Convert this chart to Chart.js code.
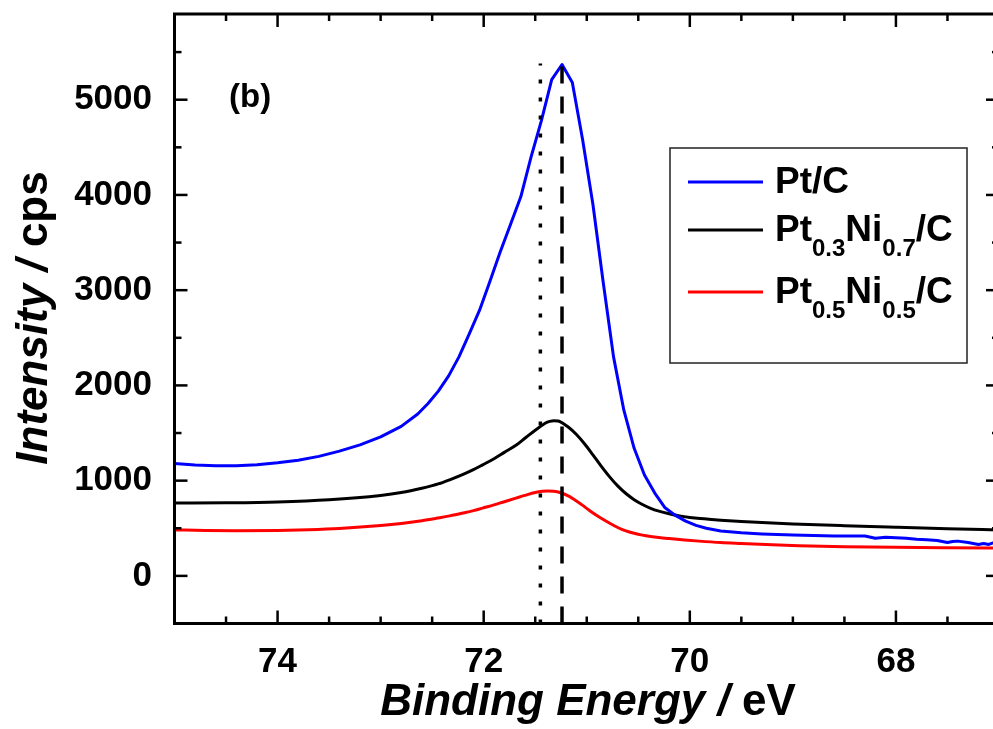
<!DOCTYPE html>
<html><head><meta charset="utf-8">
<script src="https://cdn.jsdelivr.net/npm/chart.js@4.4.1/dist/chart.umd.min.js"></script>
<style>html,body{margin:0;padding:0;background:#fff;overflow:hidden;width:993px;height:729px}#wrap{position:absolute;left:0;top:0;width:1010px;height:729px}</style>
</head><body><div id="wrap"><canvas id="c" width="1010" height="729"></canvas></div>
<script>
// ---- data ----
const ptcEnergy = [75.0,74.8,74.6,74.4,74.2,74.0,73.8,73.6,73.4,73.2,73.0,72.8,72.64,72.54,72.44,72.34,72.24,72.14,72.04,71.94,71.84,71.74,71.64,71.54,71.44,71.34,71.24,71.14,71.04,70.94,70.84,70.74,70.64,70.54,70.44,70.34,70.24,70.14,70.04,69.94,69.84,69.7,69.5,69.3,69.0,68.8,68.6,68.4,68.3,68.2,68.1,68.0,67.9,67.8,67.7,67.6,67.5,67.45,67.4,67.3,67.2,67.15,67.1,67.05,67.0];
const ptcIntensity = [1180,1165,1157,1157,1167,1187,1215,1255,1310,1375,1460,1570,1700,1810,1940,2100,2300,2540,2790,3090,3400,3690,3980,4400,4780,5210,5370,5180,4580,3900,3080,2300,1740,1340,1060,870,715,635,575,530,500,472,452,440,428,423,420,420,418,395,405,400,395,385,380,372,350,360,365,350,330,340,330,350,370];

const pt3Energy = [75.0,74.5,74.0,73.5,73.0,72.8,72.6,72.5,72.4,72.33,72.2,72.1,72.01,71.9,71.8,71.68,71.6,71.5,71.44,71.4,71.36,71.32,71.28,71.26,71.18,71.1,71.02,70.94,70.86,70.78,70.7,70.62,70.54,70.46,70.38,70.3,70.2,70.1,70.0,69.9,69.7,69.5,69.0,68.5,68.0,67.5,67.0];
const pt3Intensity = [765,768,777,800,845,875,920,948,980,1008,1065,1115,1166,1230,1297,1376,1445,1530,1575,1605,1622,1630,1626,1620,1563,1485,1385,1270,1152,1042,945,865,800,750,710,680,652,630,614,602,585,572,546,527,511,496,483];

const pt5Energy = [75.0,74.7,74.4,74.0,73.7,73.4,73.0,72.8,72.6,72.45,72.33,72.2,72.1,72.01,71.9,71.8,71.68,71.6,71.5,71.43,71.38,71.32,71.26,71.18,71.1,71.02,70.95,70.86,70.78,70.7,70.62,70.54,70.46,70.38,70.3,70.2,70.05,69.91,69.7,69.5,69.2,68.94,68.5,68.0,67.5,67.0];
const pt5Intensity = [483,477,474,477,485,498,528,550,580,607,630,660,685,712,745,779,819,845,875,888,892,888,875,840,787,725,668,605,555,508,472,447,428,414,403,392,377,365,350,340,326,317,307,300,296,293];

const dottedLineEnergy = [71.45, 71.45];
const dottedLineIntensity = [-500, 5380];
const dashedLineEnergy = [71.24, 71.24];
const dashedLineIntensity = [-500, 5370];

const seriesNames = ['Pt/C', 'Pt0.3Ni0.7/C', 'Pt0.5Ni0.5/C'];
const seriesColors = ['#0000ff', '#000000', '#ff0000'];
// legend label pieces: [text, isSubscript]
const legendParts = [
  [['Pt/C', 0]],
  [['Pt', 0], ['0.3', 1], ['Ni', 0], ['0.7', 1], ['/C', 0]],
  [['Pt', 0], ['0.5', 1], ['Ni', 0], ['0.5', 1], ['/C', 0]]
];
const xMajorTicks = [74, 72, 70, 68];
const xMinorTicks = [74.5, 73.5, 73, 72.5, 71.5, 71, 70.5, 69.5, 69, 68.5, 67.5];
const yMajorTicks = [0, 1000, 2000, 3000, 4000, 5000];
const yMinorTicks = [500, 1500, 2500, 3500, 4500, 5500];
const xTitleParts = [['Binding Energy /', 1], [' eV', 0]];
const yTitleParts = [['Intensity /', 1], [' cps', 0]];
const panelLabel = '(b)';

// ---- build ----
const pts = (xs, ys) => xs.map((v, i) => ({x: v, y: ys[i]}));
const FF = "'Liberation Sans', Arial, sans-serif";

function drawRuns(ctx, runs, x, y, align) {
  let total = 0;
  runs.forEach(r => { ctx.font = r.font; r.w = ctx.measureText(r.text).width; total += r.w; });
  let cx = align === 'center' ? x - total / 2 : x;
  runs.forEach(r => { ctx.font = r.font; ctx.fillText(r.text, cx, y + (r.dy || 0)); cx += r.w; });
}

const framePlugin = {
  id: 'frame',
  afterDatasetsDraw(chart) {
    const {ctx, chartArea: a, scales: {x, y}} = chart;
    ctx.save();
    ctx.strokeStyle = '#000';
    ctx.lineCap = 'butt';
    const seg = (x1, y1, x2, y2) => { ctx.beginPath(); ctx.moveTo(x1, y1); ctx.lineTo(x2, y2); ctx.stroke(); };
    ctx.lineWidth = 2.5;
    xMajorTicks.forEach(v => { const p = x.getPixelForValue(v); seg(p, a.bottom, p, a.bottom - 13); seg(p, a.top, p, a.top + 13); });
    xMinorTicks.forEach(v => { const p = x.getPixelForValue(v); seg(p, a.bottom, p, a.bottom - 7); seg(p, a.top, p, a.top + 7); });
    yMajorTicks.forEach(v => { const p = y.getPixelForValue(v); seg(a.left, p, a.left + 13, p); seg(a.right, p, a.right - 13, p); });
    yMinorTicks.forEach(v => { const p = y.getPixelForValue(v); seg(a.left, p, a.left + 7, p); seg(a.right, p, a.right - 7, p); });
    ctx.lineWidth = 3;
    ctx.strokeRect(a.left, a.top, a.right - a.left, a.bottom - a.top);

    // texts
    ctx.fillStyle = '#000';
    ctx.textBaseline = 'alphabetic';
    ctx.textAlign = 'left';
    ctx.font = 'bold 33px ' + FF;
    ctx.fillText(panelLabel, 229, 107);

    drawRuns(ctx, xTitleParts.map(p => ({text: p[0], font: (p[1] ? 'italic ' : '') + 'bold 44px ' + FF})), 588, 715, 'center');
    ctx.save();
    ctx.translate(47, 318);
    ctx.rotate(-Math.PI / 2);
    drawRuns(ctx, yTitleParts.map(p => ({text: p[0], font: (p[1] ? 'italic ' : '') + 'bold 44px ' + FF})), 0, 0, 'center');
    ctx.restore();

    // legend
    ctx.lineWidth = 1.5;
    ctx.strokeStyle = '#222';
    ctx.strokeRect(670, 148, 297, 215);
    const rowY = [182, 230, 292];
    legendParts.forEach((parts, i) => {
      ctx.strokeStyle = seriesColors[i];
      ctx.lineWidth = 3;
      seg(688, rowY[i], 763, rowY[i]);
      ctx.fillStyle = '#000';
      drawRuns(ctx, parts.map(p => ({text: p[0], font: 'bold ' + (p[1] ? 24 : 37) + 'px ' + FF, dy: p[1] ? 15 : 0})), 775, rowY[i] + 11, 'left');
    });
    ctx.restore();
  }
};

const lineDs = (label, data, color, extra) => Object.assign({
  label, data, borderColor: color, backgroundColor: color, showLine: true,
  pointRadius: 0, borderWidth: 3, fill: false, cubicInterpolationMode: 'monotone'
}, extra || {});

new Chart(document.getElementById('c'), {
  type: 'scatter',
  data: {
    datasets: [
      lineDs('dashed', pts(dashedLineEnergy, dashedLineIntensity), '#000', {borderDash: [17, 13], borderWidth: 3.5, cubicInterpolationMode: 'default', tension: 0}),
      lineDs('dotted', pts(dottedLineEnergy, dottedLineIntensity), '#000', {borderDash: [4, 14], borderWidth: 3.5, cubicInterpolationMode: 'default', tension: 0}),
      lineDs(seriesNames[0], pts(ptcEnergy, ptcIntensity), seriesColors[0], {cubicInterpolationMode: 'default', tension: 0, borderJoinStyle: 'round'}),
      lineDs(seriesNames[1], pts(pt3Energy, pt3Intensity), seriesColors[1]),
      lineDs(seriesNames[2], pts(pt5Energy, pt5Intensity), seriesColors[2])
    ]
  },
  options: {
    responsive: false, animation: false, devicePixelRatio: 1,
    layout: {padding: {top: 14, right: 11, left: 0, bottom: 0}},
    plugins: {legend: {display: false}, tooltip: {enabled: false}},
    scales: {
      x: {
        type: 'linear', reverse: true, min: 67, max: 75,
        grid: {display: false}, border: {display: false},
        afterBuildTicks: s => { s.ticks = xMajorTicks.map(v => ({value: v})); },
        afterFit: s => { s.height = 105.5; s.paddingLeft = 0; s.paddingRight = 0; s.paddingTop = 0; s.paddingBottom = 0; },
        ticks: {color: '#000', padding: 10, maxRotation: 0, font: {family: FF, weight: 'bold', size: 35}, callback: v => String(v)}
      },
      y: {
        type: 'linear', min: -500, max: 5900,
        grid: {display: false}, border: {display: false},
        afterBuildTicks: s => { s.ticks = yMajorTicks.map(v => ({value: v})); },
        afterFit: s => { s.width = 174.5; s.paddingLeft = 0; s.paddingRight = 0; s.paddingTop = 0; s.paddingBottom = 0; },
        ticks: {color: '#000', padding: 14.5, font: {family: FF, weight: 'bold', size: 35}, callback: v => String(v)}
      }
    }
  },
  plugins: [framePlugin]
});
</script></body></html>
